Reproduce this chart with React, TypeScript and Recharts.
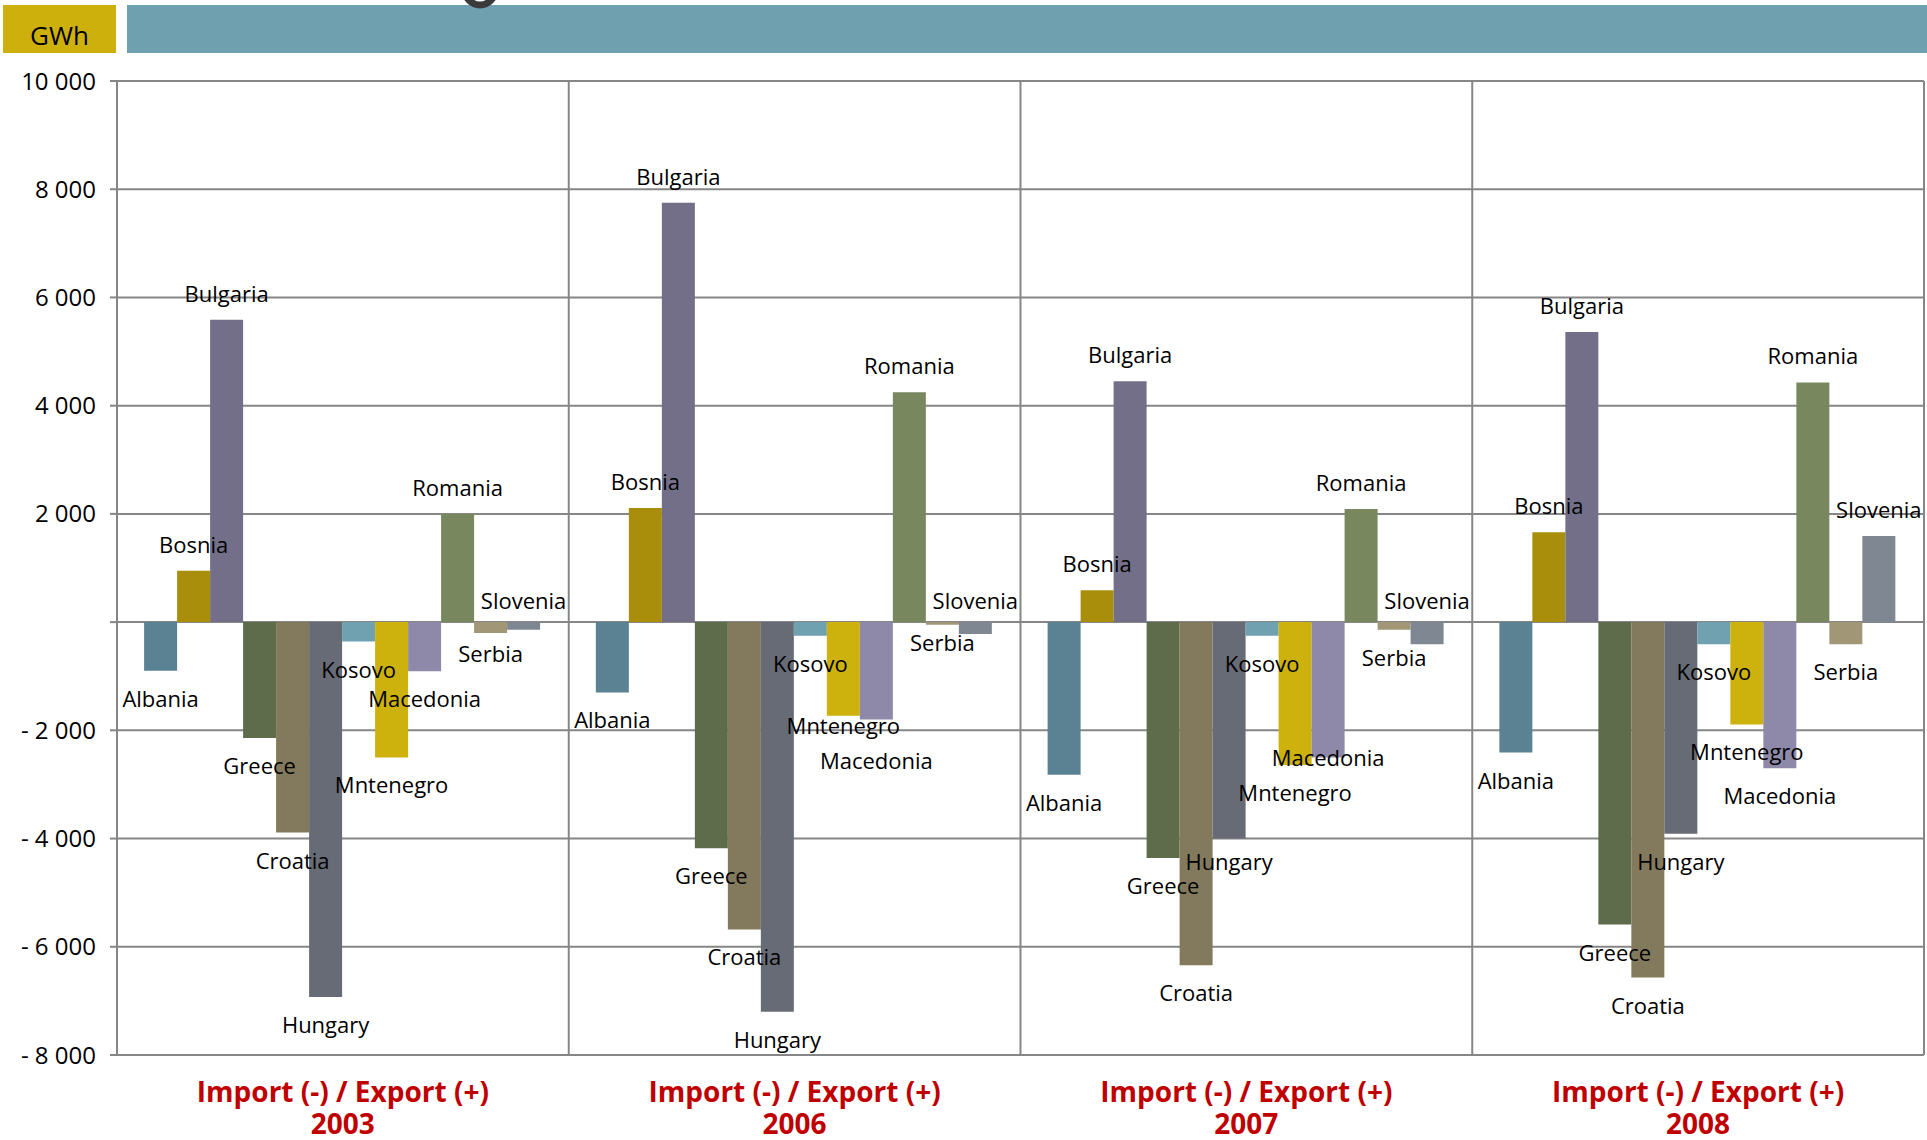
import { Bar, BarChart, CartesianGrid, LabelList, XAxis, YAxis } from "recharts";

const years = ["2003", "2006", "2007", "2008"];

const countries = [
  "Albania",
  "Bosnia",
  "Bulgaria",
  "Greece",
  "Croatia",
  "Hungary",
  "Kosovo",
  "Mntenegro",
  "Macedonia",
  "Romania",
  "Serbia",
  "Slovenia",
];

// GWh per year: 2003, 2006, 2007, 2008
const albania = [-900, -1300, -2820, -2410];
const bosnia = [950, 2110, 590, 1660];
const bulgaria = [5590, 7750, 4450, 5360];
const greece = [-2140, -4180, -4360, -5590];
const croatia = [-3890, -5680, -6340, -6570];
const hungary = [-6930, -7200, -4000, -3910];
const kosovo = [-360, -250, -250, -410];
const montenegro = [-2500, -1730, -2640, -1890];
const macedonia = [-910, -1800, -2500, -2700];
const romania = [2000, 4250, 2090, 4430];
const serbia = [-200, -50, -140, -410];
const slovenia = [-140, -220, -410, 1590];

const seriesValues = [
  albania,
  bosnia,
  bulgaria,
  greece,
  croatia,
  hungary,
  kosovo,
  montenegro,
  macedonia,
  romania,
  serbia,
  slovenia,
];

const yTicks = [-8000, -6000, -4000, -2000, 0, 2000, 4000, 6000, 8000, 10000];

const COLORS = [
  "#5a8292",
  "#a98e0b",
  "#736f88",
  "#5f6c4c",
  "#837a5d",
  "#676b75",
  "#6fa1b0",
  "#cdb10d",
  "#8e89a8",
  "#79875f",
  "#a19777",
  "#7f8892",
];

// hand-moved labels in the original (px, +down)
const labelNudge: Record<string, number> = {
  "Mntenegro-1": -18,
  "Macedonia-1": 13,
  "Macedonia-2": -27,
  "Hungary-2": -5,
  "Serbia-0": -7,
  "Serbia-1": -10,
};

const FONT = "'Open Sans', sans-serif";
const GRID = "#868686";

const chartData = years.map((year, i) => {
  const row: Record<string, string | number> = { year };
  countries.forEach((c, j) => {
    row[c] = seriesValues[j][i];
  });
  return row;
});

const fmt = (v: number) => {
  if (v === 0) return "";
  const s = Math.abs(v)
    .toString()
    .replace(/\B(?=(\d{3})+(?!\d))/g, " ");
  return v < 0 ? `- ${s}` : s;
};

const renderLabel = (name: string) => (props: any) => {
  const { x, y, width, height, value, index } = props;
  const top = Math.min(y, y + height);
  const bottom = Math.max(y, y + height);
  let cy: number;
  if (value >= 0) cy = top - 27;
  else if (name === "Slovenia") cy = top - 22;
  else cy = bottom + 27;
  cy += labelNudge[`${name}-${index}`] || 0;
  return (
    <text
      x={x + width / 2}
      y={cy}
      textAnchor="middle"
      dominantBaseline="central"
      fontFamily={FONT}
      fontSize={22}
      fill="#000"
    >
      {name}
    </text>
  );
};

const YearTick = (props: any) => {
  const { x, y, payload } = props;
  return (
    <g>
      <text
        x={x}
        y={y + 28}
        textAnchor="middle"
        dominantBaseline="central"
        fontFamily={FONT}
        fontWeight="bold"
        fontSize={28}
        fill="#c00000"
      >
        Import (-) / Export (+)
      </text>
      <text
        x={x}
        y={y + 60}
        textAnchor="middle"
        dominantBaseline="central"
        fontFamily={FONT}
        fontWeight="bold"
        fontSize={28}
        fill="#c00000"
      >
        {payload.value}
      </text>
    </g>
  );
};

const App = () => {
  return (
    <div
      style={{
        position: "absolute",
        left: 0,
        top: 0,
        width: 1927,
        height: 1140,
        background: "#fff",
        overflow: "hidden",
      }}
    >
      <div
        style={{
          position: "absolute",
          left: 3,
          top: 5,
          width: 113,
          height: 48,
          background: "#ceb00c",
          color: "#000",
          fontFamily: FONT,
          fontSize: 26,
          textAlign: "center",
          lineHeight: "60px",
        }}
      >
        GWh
      </div>
      <div
        style={{
          position: "absolute",
          left: 127,
          top: 5,
          width: 1800,
          height: 48,
          background: "#6ea0b0",
        }}
      />
      <svg style={{ position: "absolute", left: 0, top: 0 }} width={600} height={20}>
        <circle cx={480} cy={-10} r={15} fill="none" stroke="#3a3a3a" strokeWidth={7} />
      </svg>
      <div style={{ position: "absolute", left: 0, top: 0 }}>
        <BarChart
          width={1927}
          height={1140}
          data={chartData}
          margin={{ top: 81, right: 3, bottom: 0, left: 0 }}
          barCategoryGap="6%"
          barGap={0}
        >
          <CartesianGrid
            stroke={GRID}
            strokeWidth={2}
            verticalCoordinatesGenerator={({ offset }: any) =>
              years.map((_, i) => offset.left + (i * offset.width) / years.length).concat(offset.left + offset.width)
            }
          />
          <XAxis
            dataKey="year"
            axisLine={false}
            tickLine={false}
            height={85}
            interval={0}
            tick={<YearTick />}
          />
          <YAxis
            width={117}
            domain={[-8000, 10000]}
            ticks={yTicks}
            interval={0}
            tickFormatter={fmt}
            axisLine={{ stroke: GRID, strokeWidth: 2 }}
            tickLine={{ stroke: GRID, strokeWidth: 2 }}
            tickSize={7}
            tickMargin={14}
            tick={{ fontFamily: FONT, fontSize: 24, fill: "#000" }}
          />
          {countries.map((c, i) => (
            <Bar key={c} dataKey={c} fill={COLORS[i]} isAnimationActive={false}>
              <LabelList dataKey={c} content={renderLabel(c)} />
            </Bar>
          ))}
        </BarChart>
      </div>
    </div>
  );
};

export default App;
